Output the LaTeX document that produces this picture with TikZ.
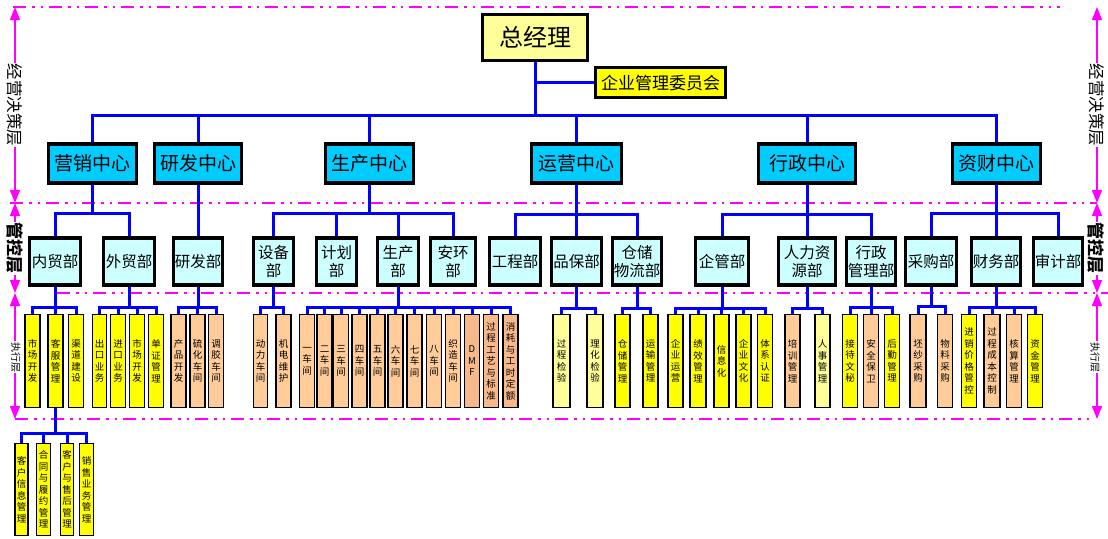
\documentclass[tikz,border=0pt]{standalone}
\usepackage{fontspec}
\setmainfont{Noto Sans CJK SC}
\usetikzlibrary{arrows.meta}
\definecolor{cyanA}{HTML}{00CCFF}
\definecolor{cyanL}{HTML}{CCFFFF}
\definecolor{ylw}{HTML}{FFFF00}
\definecolor{ylwL}{HTML}{FFFF99}
\definecolor{pch}{HTML}{FFCC99}
\definecolor{pchD}{HTML}{F8B98A}
\definecolor{mag}{HTML}{FF00FF}
\definecolor{blu}{HTML}{0000FF}
\tikzset{
 conn/.style={draw=blu, line width=3pt},
 bigbox/.style={draw=black, line width=3.2pt, inner sep=0pt, align=center},
 ctr/.style={bigbox, fill=cyanA, minimum height=39pt, font=\fontsize{19}{22}\selectfont},
 deptbox/.style={bigbox, fill=cyanL, minimum height=47pt, font=\fontsize{15.5}{18}\selectfont},
 leafbox/.style={draw=black, line width=1.8pt, inner sep=0pt, align=center, minimum height=93pt, font=\fontsize{9.5}{11.5}\selectfont},
 layer/.style={draw=mag, line width=2.5pt, dash pattern=on 13pt off 6pt on 2.5pt off 6pt on 2.5pt off 6pt},
 span/.style={draw=mag, line width=1.3pt, arrows={Triangle[width=10pt,length=13pt]-Triangle[width=10pt,length=13pt]}},
 lbl/.style={fill=white, inner sep=1pt, rotate=-90},
}
\newcommand{\tree}[3]{\foreach \ch in {#3}{\draw[conn] (#1.south) -- (#1.south |- 0,#2) -| (\ch.north);}}
\newcommand{\leaf}[5]{\node[leafbox, fill=#4, minimum width=#3pt] (#1) at (#2,361) {#5};}
\newcommand{\dept}[4]{\node[deptbox, minimum width=#3pt] (#1) at (#2,261.5) {#4};}
\begin{document}
\begin{tikzpicture}[x=1pt,y=-1pt]
\useasboundingbox (0,0) rectangle (1108,538);
% layer lines
\draw[layer] (13,7) -- (1060,7);
\draw[layer] (10,203) -- (1097,203);
\draw[layer] (57,293) -- (1108,293);
\draw[layer] (15,419) -- (1090,419);
% span arrows
\draw[span] (15,7) -- (15,203);
\draw[span] (15,203) -- (15,293);
\draw[span] (15,293) -- (15,419);
\draw[span] (1097,7) -- (1097,203);
\draw[span] (1097,203) -- (1097,293);
\draw[span] (1097,293) -- (1097,419);
\node[lbl, font=\fontsize{16.5}{18}\selectfont] (jyL) at (15,105) {经营决策层};
\node[lbl, font=\fontsize{17}{18}\selectfont\bfseries] (gkL) at (15,248) {管控层};
\node[lbl, font=\fontsize{10}{12}\selectfont] (zxL) at (16,357) {执行层};
\node[lbl, font=\fontsize{16.5}{18}\selectfont] (jyR) at (1097,105) {经营决策层};
\node[lbl, font=\fontsize{17}{18}\selectfont\bfseries] (gkR) at (1096,248) {管控层};
\node[lbl, font=\fontsize{10}{12}\selectfont] (zxR) at (1095,357) {执行层};
% top
\node[bigbox, fill=ylwL, minimum width=105pt, minimum height=46pt, font=\fontsize{24}{26}\selectfont] (gm) at (535,37.5) {总经理};
\node[bigbox, line width=2.6pt, fill=ylw, minimum width=130pt, minimum height=30pt, font=\fontsize{17}{19}\selectfont] (wyh) at (660.5,82.5) {企业管理委员会};
% centres
\node[ctr, minimum width=88pt] (yx) at (92.5,163.5) {营销中心};
\node[ctr, minimum width=87pt] (yf) at (198,163.5) {研发中心};
\node[ctr, minimum width=88pt] (sc) at (369.5,163.5) {生产中心};
\node[ctr, minimum width=90pt] (yy) at (576.5,163.5) {运营中心};
\node[ctr, minimum width=97pt] (xz) at (807,163.5) {行政中心};
\node[ctr, minimum width=88pt] (zc) at (996.5,163.5) {资财中心};
% departments
\dept{nm}{55}{51}{内贸部}
\dept{wm}{129}{51}{外贸部}
\dept{yfb}{198}{49}{研发部}
\dept{sb}{273.5}{40}{设备\\部}
\dept{jh}{336.5}{40}{计划\\部}
\dept{scb}{398}{41}{生产\\部}
\dept{ah}{453}{45}{安环\\部}
\dept{gc}{515}{51}{工程部}
\dept{pb}{576.5}{50}{品保部}
\dept{cc}{637}{49}{仓储\\物流部}
\dept{qg}{722}{53}{企管部}
\dept{rl}{807}{57}{人力资\\源部}
\dept{xzg}{871}{49}{行政\\管理部}
\dept{cg}{931}{51}{采购部}
\dept{cw}{996}{49}{财务部}
\dept{sj}{1058}{49}{审计部}
% leaves
\leaf{a1}{32.5}{15.5}{ylw}{市\\场\\开\\发}
\leaf{a2}{55.5}{15.5}{ylw}{客\\服\\管\\理}
\leaf{a3}{76}{15}{ylw}{渠\\道\\建\\设}
\leaf{b1}{99.5}{14}{ylw}{出\\口\\业\\务}
\leaf{b2}{118}{15}{ylw}{进\\口\\业\\务}
\leaf{b3}{137}{15}{ylw}{市\\场\\开\\发}
\leaf{b4}{156}{15}{ylw}{单\\证\\管\\理}
\leaf{c1}{178.5}{15.5}{pch}{产\\品\\开\\发}
\leaf{c2}{197.5}{15.5}{pch}{硫\\化\\车\\间}
\leaf{c3}{216}{15}{pch}{调\\胶\\车\\间}
\leaf{d1}{260.5}{14}{pch}{动\\力\\车\\间}
\leaf{d2}{283.5}{15.5}{pch}{机\\电\\维\\护}
\leaf{p1}{307}{15}{pch}{一\\车\\间}
\leaf{p2}{324.5}{14.5}{pch}{二\\车\\间}
\leaf{p3}{341}{15}{pch}{三\\车\\间}
\leaf{p4}{359.5}{14.5}{pch}{四\\车\\间}
\leaf{p5}{377.5}{14.5}{pch}{五\\车\\间}
\leaf{p6}{395.5}{14.5}{pch}{六\\车\\间}
\leaf{p7}{414.5}{15.5}{pch}{七\\车\\间}
\leaf{p8}{434}{15}{pch}{八\\车\\间}
\leaf{p9}{453}{15}{pch}{织\\造\\车\\间}
\leaf{p10}{472}{15}{pchD}{D\\M\\F}
\leaf{p11}{491}{15}{pchD}{过\\程\\工\\艺\\与\\标\\准}
\leaf{p12}{510.5}{15.5}{pchD}{消\\耗\\与\\工\\时\\定\\额}
\leaf{e1}{561.5}{17.5}{ylwL}{过\\程\\检\\验}
\leaf{e2}{595}{16.5}{ylwL}{理\\化\\检\\验}
\leaf{f1}{622.5}{15.5}{ylw}{仓\\储\\管\\理}
\leaf{f2}{650.5}{15.5}{ylw}{运\\输\\管\\理}
\leaf{g1}{675.5}{15.5}{ylw}{企\\业\\运\\营}
\leaf{g2}{698}{16}{ylw}{绩\\效\\管\\理}
\leaf{g3}{721.5}{15.5}{ylw}{信\\息\\化}
\leaf{g4}{743.5}{15.5}{ylw}{企\\业\\文\\化}
\leaf{g5}{765}{15}{ylw}{体\\系\\认\\证}
\leaf{h1}{792.5}{15.5}{pch}{培\\训\\管\\理}
\leaf{h2}{822.5}{15.5}{ylwL}{人\\事\\管\\理}
\leaf{i1}{850}{15}{ylw}{接\\待\\文\\秘}
\leaf{i2}{871}{15}{pch}{安\\全\\保\\卫}
\leaf{i3}{892}{15}{ylw}{后\\勤\\管\\理}
\leaf{j1}{918}{16.5}{pch}{坯\\纱\\采\\购}
\leaf{j2}{945}{15}{pch}{物\\料\\采\\购}
\leaf{k1}{969}{15}{ylw}{进\\销\\价\\格\\管\\控}
\leaf{k2}{992}{16.5}{pch}{过\\程\\成\\本\\控\\制}
\leaf{k3}{1014}{15}{pch}{核\\算\\管\\理}
\leaf{k4}{1035}{15}{ylw}{资\\金\\管\\理}
% bottom row
\node[leafbox, fill=ylw, minimum width=13pt, minimum height=92pt] (l1) at (21.5,489.5) {客\\户\\信\\息\\管\\理};
\node[leafbox, fill=ylw, minimum width=14pt, minimum height=92pt] (l2) at (43.5,489.5) {合\\同\\与\\履\\约\\管\\理};
\node[leafbox, fill=ylw, minimum width=13pt, minimum height=92pt] (l3) at (67,489.5) {客\\户\\与\\售\\后\\管\\理};
\node[leafbox, fill=ylw, minimum width=14pt, minimum height=92pt] (l4) at (86.5,489.5) {销\\售\\业\\务\\管\\理};
% connectors
\tree{gm}{115}{yx,yf,sc,yy,xz,zc}
\draw[conn] (gm.south |- wyh.west) -- (wyh.west);
\tree{yx}{213}{nm,wm}
\tree{yf}{213}{yfb}
\tree{sc}{213}{sb,jh,scb,ah}
\tree{yy}{214}{gc,pb,cc}
\tree{xz}{214}{qg,rl,xzg}
\tree{zc}{213}{cg,cw,sj}
\tree{nm}{307}{a1,a2,a3}
\tree{wm}{307}{b1,b2,b3,b4}
\tree{yfb}{307}{c1,c2,c3}
\tree{sb}{307}{d1,d2}
\tree{scb}{307}{p1,p2,p3,p4,p5,p6,p7,p8,p9,p10,p11,p12}
\tree{pb}{308}{e1,e2}
\tree{cc}{308}{f1,f2}
\tree{qg}{308}{g1,g2,g3,g4,g5}
\tree{rl}{308}{h1,h2}
\tree{xzg}{307}{i1,i2,i3}
\tree{cg}{306}{j1,j2}
\tree{cw}{307}{k1,k2,k3,k4}
\tree{a2}{433}{l1,l2,l3,l4}
\end{tikzpicture}
\end{document}
